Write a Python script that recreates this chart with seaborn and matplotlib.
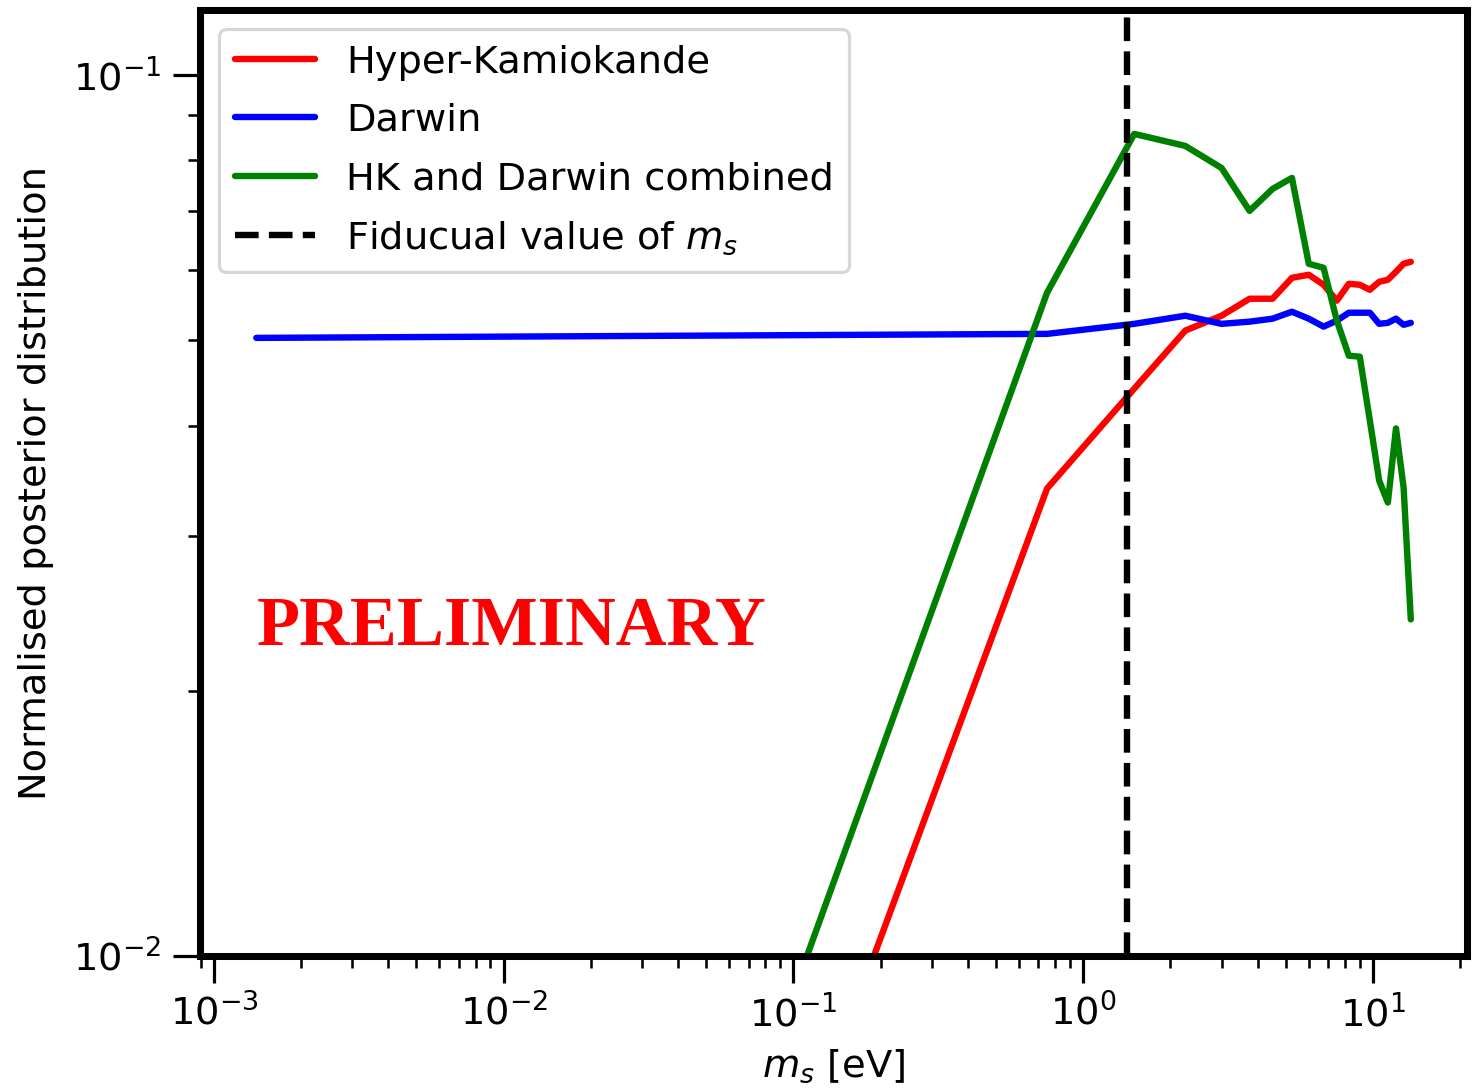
import matplotlib
matplotlib.use("Agg")
import matplotlib.pyplot as plt
import pandas as pd
import seaborn as sns

# Sterile-neutrino mass grid [eV]
m_s = [0.0014, 0.75, 1.5, 2.25, 3.0, 3.75, 4.5, 5.25, 6.0, 6.75, 7.5,
       8.25, 9.0, 9.75, 10.5, 11.25, 12.0, 12.75, 13.5]

# Normalised posterior for each experiment
hyper_k = [1.28e-4, 0.03393, 0.04406, 0.05127, 0.05330, 0.05572, 0.05572,
           0.05885, 0.05932, 0.05779, 0.05544, 0.05794, 0.05779, 0.05704,
           0.05824, 0.05855, 0.05979, 0.06105, 0.06137]
darwin = [0.05030, 0.05083, 0.05218, 0.05330, 0.05218, 0.05248, 0.05289,
          0.05386, 0.05289, 0.05180, 0.05262, 0.05372, 0.05372, 0.05372,
          0.05218, 0.05232, 0.05289, 0.05205, 0.05232]
combined = [1.877e-4, 0.05660, 0.08572, 0.08307, 0.07842, 0.07010, 0.07424,
            0.07641, 0.06105, 0.06042, 0.05262, 0.04801, 0.04789, 0.04053,
            0.03464, 0.03271, 0.03970, 0.03401, 0.02410]

fiducial_ms = 1.42

series_labels = ["Hyper-Kamiokande", "Darwin", "HK and Darwin combined"]
series_colors = ["red", "blue", "green"]

df = pd.concat([
    pd.DataFrame({"m_s": m_s, "posterior": vals, "series": lab})
    for vals, lab in zip([hyper_k, darwin, combined], series_labels)
])

sns.set_style("ticks")
plt.rcParams.update({
    "font.family": ["DejaVu Sans"],
    "font.size": 12,
    "axes.linewidth": 2.2,
    "xtick.direction": "out",
    "ytick.direction": "out",
    "text.color": "black",
    "axes.labelcolor": "black",
    "xtick.color": "black",
    "ytick.color": "black",
    "axes.edgecolor": "black",
})

fig = plt.figure(figsize=(6.4, 1089 / 1473 * 6.4), dpi=1473 / 6.4)
ax = fig.add_axes([200 / 1473, 1 - 956 / 1089, 1267 / 1473, 946 / 1089])

for lab, col in zip(series_labels, series_colors):
    sns.lineplot(data=df[df["series"] == lab], x="m_s", y="posterior",
                 color=col, linewidth=2.0, label=lab, ax=ax,
                 estimator=None, sort=True)

ax.axvline(fiducial_ms, color="black", linestyle="--", linewidth=2.0,
           label="Fiducual value of $m_s$")

ax.set_xscale("log")
ax.set_yscale("log")
ax.set_xlim(8.95e-4, 21.1)
ax.set_ylim(0.01, 0.1185)

for side in ["top", "right", "left", "bottom"]:
    ax.spines[side].set_visible(True)
    ax.spines[side].set_linewidth(2.2)
    ax.spines[side].set_color("black")

ax.tick_params(which="major", length=8.5, width=1.0, labelsize=12, pad=3.5,
               colors="black")
ax.tick_params(which="minor", length=3.8, width=0.8, colors="black")

ax.set_xlabel("$m_s$ [eV]", fontsize=12, labelpad=4, color="black")
ax.set_ylabel("Normalised posterior distribution", fontsize=12, labelpad=6,
              color="black")

leg = ax.legend(loc="upper left", fontsize=12, frameon=True, framealpha=0.8,
                handlelength=2.1, labelspacing=0.58)
for t in leg.get_texts():
    t.set_color("black")

ax.text(0.246, 0.347, "PRELIMINARY", transform=ax.transAxes,
        ha="center", va="center", color="red", fontsize=22,
        fontweight="bold", family=["Liberation Serif", "DejaVu Serif"])

fig.savefig("out.png", dpi=1473 / 6.4)
